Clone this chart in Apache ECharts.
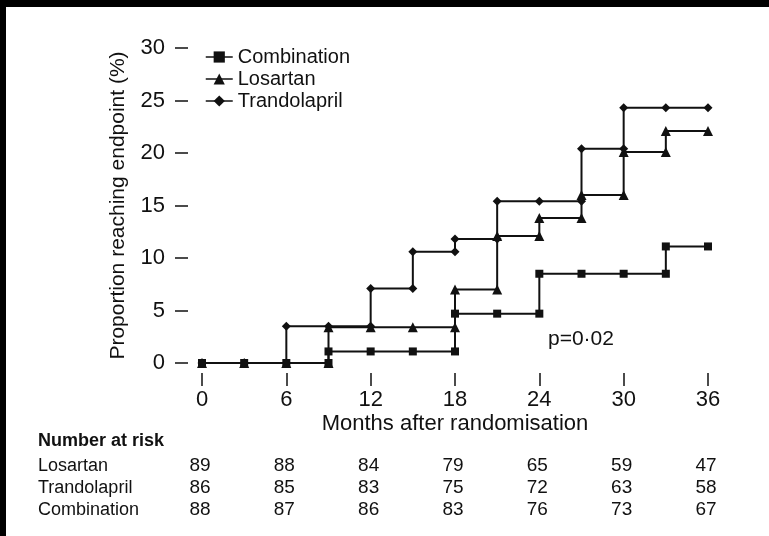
<!DOCTYPE html>
<html>
<head>
<meta charset="utf-8">
<script src="https://cdn.jsdelivr.net/npm/echarts@6/dist/echarts.min.js"></script>
<style>
    html, body { margin: 0; padding: 0; background: #fff; }
    #main { width: 769px; height: 536px; }
    .edge { position: absolute; background: #000; }
</style>
</head>
<body>
<div id="main"></div>
<div class="edge" style="left:0;top:0;width:769px;height:7px"></div>
<div class="edge" style="left:0;top:0;width:6px;height:536px"></div>
<script>
//// values ////
var combinationMonths = [0, 3, 6, 9, 9, 12, 15, 18, 18, 21, 24, 24, 27, 30, 33, 33, 36];
var combinationValues = [0, 0, 0, 0, 1.1, 1.1, 1.1, 1.1, 4.7, 4.7, 4.7, 8.5, 8.5, 8.5, 8.5, 11.1, 11.1];

var losartanMonths = [0, 3, 6, 9, 9, 12, 15, 18, 18, 21, 21, 24, 24, 27, 27, 30, 30, 33, 33, 36];
var losartanValues = [0, 0, 0, 0, 3.4, 3.4, 3.4, 3.4, 7.0, 7.0, 12.1, 12.1, 13.8, 13.8, 16.0, 16.0, 20.1, 20.1, 22.1, 22.1];

var trandolaprilMonths = [0, 3, 6, 6, 9, 12, 12, 15, 15, 18, 18, 21, 21, 24, 27, 27, 30, 30, 33, 36];
var trandolaprilValues = [0, 0, 0, 3.5, 3.5, 3.5, 7.1, 7.1, 10.6, 10.6, 11.8, 11.8, 15.4, 15.4, 15.4, 20.4, 20.4, 24.3, 24.3, 24.3];

var riskMonths = [0, 6, 12, 18, 24, 30, 36];
var riskLosartan = [89, 88, 84, 79, 65, 59, 47];
var riskTrandolapril = [86, 85, 83, 75, 72, 63, 58];
var riskCombination = [88, 87, 86, 83, 76, 73, 67];

var fontName = 'Liberation Sans, Arial, sans-serif';
var ink = '#111';

function pairs(xs, ys) {
    return xs.map(function (x, i) { return [x, ys[i]]; });
}

function kmSeries(name, xs, ys, symbol, size) {
    return {
        name: name,
        type: 'line',
        data: pairs(xs, ys),
        symbol: symbol,
        symbolSize: size,
        showAllSymbol: true,
        lineStyle: { color: ink, width: 2 },
        itemStyle: { color: ink },
        emphasis: { disabled: true }
    };
}

var myChart = echarts.init(document.getElementById('main'));

// no visible axis line; onZero off so the offset moves the ticks away from the curves
var hiddenLine = { show: true, onZero: false, lineStyle: { color: ink, opacity: 0 } };
var tickStyle = { show: true, inside: false, length: 13, lineStyle: { color: ink, width: 1.5 } };

var option = {
    animation: false,
    backgroundColor: '#fff',
    textStyle: { fontFamily: fontName, color: ink },
    grid: { left: 202, right: 61, top: 48, bottom: 173 },
    legend: {
        orient: 'vertical',
        left: 205,
        top: 47,
        padding: 0,
        itemWidth: 27,
        itemHeight: 14,
        itemGap: 2,
        data: ['Combination', 'Losartan', 'Trandolapril'],
        lineStyle: { width: 1.5 },
        textStyle: { fontSize: 20, color: ink, fontFamily: fontName }
    },
    xAxis: {
        type: 'value',
        min: 0,
        max: 36,
        interval: 6,
        offset: 10,
        name: 'Months after randomisation',
        nameLocation: 'middle',
        nameGap: 40,
        nameMoveOverlap: false,
        nameTextStyle: { fontSize: 22, color: ink, fontFamily: fontName },
        axisLine: hiddenLine,
        axisTick: tickStyle,
        axisLabel: { margin: 16, fontSize: 22, color: ink, fontFamily: fontName },
        splitLine: { show: false }
    },
    yAxis: {
        type: 'value',
        min: 0,
        max: 30,
        interval: 5,
        offset: 14,
        name: 'Proportion reaching endpoint (%)',
        nameLocation: 'middle',
        nameGap: 59,
        nameMoveOverlap: false,
        nameTextStyle: { fontSize: 21, color: ink, fontFamily: fontName },
        axisLine: hiddenLine,
        axisTick: tickStyle,
        axisLabel: { margin: 23, fontSize: 22, color: ink, fontFamily: fontName },
        splitLine: { show: false }
    },
    series: [
        kmSeries('Combination', combinationMonths, combinationValues, 'rect', 8),
        kmSeries('Losartan', losartanMonths, losartanValues, 'triangle', 10),
        kmSeries('Trandolapril', trandolaprilMonths, trandolaprilValues, 'diamond', 9)
    ]
};

myChart.setOption(option);

//// number at risk table, placed under the x axis ticks ////
var texts = [];
function addText(str, x, y, align, bold, size) {
    texts.push({
        type: 'text',
        x: x,
        y: y,
        silent: true,
        style: {
            text: str,
            align: align,
            verticalAlign: 'middle',
            fill: ink,
            font: (bold ? 'bold ' : '') + size + 'px ' + fontName
        }
    });
}

addText('p=0\u00b702', 548, 339, 'left', false, 21);
addText('Number at risk', 38, 441, 'left', true, 18);

var rows = [
    ['Losartan', riskLosartan, 466],
    ['Trandolapril', riskTrandolapril, 488],
    ['Combination', riskCombination, 510]
];
rows.forEach(function (row) {
    addText(row[0], 38, row[2], 'left', false, 18);
    row[1].forEach(function (n, i) {
        var px = myChart.convertToPixel({ xAxisIndex: 0 }, riskMonths[i]);
        addText(String(n), px - 2, row[2], 'center', false, 19);
    });
});

myChart.setOption({ graphic: texts });
</script>
</body>
</html>
